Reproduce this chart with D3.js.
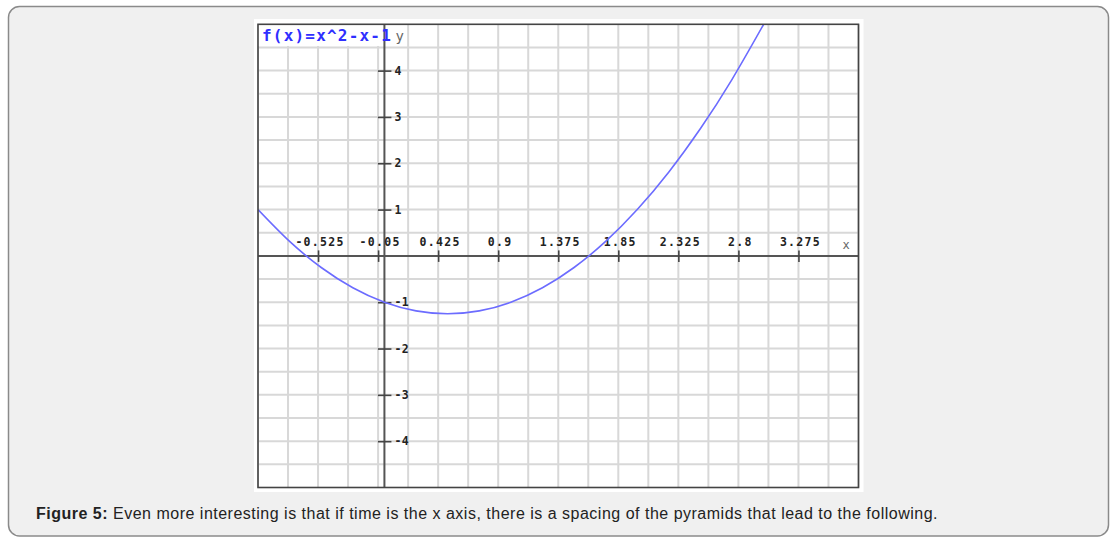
<!DOCTYPE html>
<html>
<head>
<meta charset="utf-8">
<script src="https://cdn.jsdelivr.net/npm/d3@7"></script>
<style>
  html, body { margin: 0; padding: 0; background: #ffffff; }
  svg { display: block; }
</style>
</head>
<body>
<svg id="chart" width="1115" height="546"></svg>
<script>
// ---- data ----
const titleText = "f(x)=x^2-x-1";
const captionBold = "Figure 5:";
const captionText = " Even more interesting is that if time is the x axis, there is a spacing of the pyramids that lead to the following.";
const xDomain = [-1, 3.75];
const yDomain = [-5, 5];
const xTicks = [-0.525, -0.05, 0.425, 0.9, 1.375, 1.85, 2.325, 2.8, 3.275];
const xTickLabels = ["-0.525", "-0.05", "0.425", "0.9", "1.375", "1.85", "2.325", "2.8", "3.275"];
const yTicks = [-4, -3, -2, -1, 1, 2, 3, 4];
const xGrid = [-1, -0.7625, -0.525, -0.2875, -0.05, 0.1875, 0.425, 0.6625, 0.9, 1.1375, 1.375, 1.6125, 1.85, 2.0875, 2.325, 2.5625, 2.8, 3.0375, 3.275, 3.5125, 3.75];
const yGrid = [-4.5, -4, -3.5, -3, -2.5, -2, -1.5, -1, -0.5, 0, 0.5, 1, 1.5, 2, 2.5, 3, 3.5, 4, 4.5];
const curveX = [-1, -0.75, -0.5, -0.25, 0, 0.25, 0.5, 0.75, 1, 1.25, 1.5, 1.75, 2, 2.25, 2.5, 2.75, 3];
const curveY = [1, 0.3125, -0.25, -0.6875, -1, -1.1875, -1.25, -1.1875, -1, -0.6875, -0.25, 0.3125, 1, 1.8125, 2.75, 3.8125, 5];

// ---- layout ----
const svg = d3.select("#chart");
const frame = { left: 258, right: 858.5, top: 24.3, bottom: 487.5 };

// outer panel
svg.append("rect")
  .attr("x", 8.5).attr("y", 6.5).attr("width", 1100).attr("height", 529.5)
  .attr("rx", 11).attr("ry", 11)
  .attr("fill", "#f0f0f0").attr("stroke", "#8a8a8a").attr("stroke-width", 1.5);

// white image box
svg.append("rect")
  .attr("x", 254).attr("y", 19).attr("width", 609.5).attr("height", 473)
  .attr("fill", "#ffffff");

const x = d3.scaleLinear().domain(xDomain).range([frame.left, frame.right]);
const y = d3.scaleLinear().domain(yDomain).range([frame.bottom, frame.top]);

const g = svg.append("g");

// grid
g.selectAll("line.vg").data(xGrid).join("line").attr("class", "vg")
  .attr("x1", d => x(d)).attr("x2", d => x(d))
  .attr("y1", frame.top).attr("y2", frame.bottom)
  .attr("stroke", "#d8d8d8").attr("stroke-width", 2);
g.selectAll("line.hg").data(yGrid).join("line").attr("class", "hg")
  .attr("x1", frame.left).attr("x2", frame.right)
  .attr("y1", d => y(d)).attr("y2", d => y(d))
  .attr("stroke", "#d8d8d8").attr("stroke-width", 2);

// white title background
g.append("rect")
  .attr("x", frame.left).attr("y", frame.top).attr("width", x(0) - 2 - frame.left)
  .attr("height", y(4.5) - 1.5 - frame.top).attr("fill", "#ffffff");

// axes lines
g.append("line")
  .attr("x1", frame.left).attr("x2", frame.right).attr("y1", y(0)).attr("y2", y(0))
  .attr("stroke", "#555").attr("stroke-width", 2);
g.append("line")
  .attr("x1", x(0)).attr("x2", x(0)).attr("y1", frame.top).attr("y2", frame.bottom)
  .attr("stroke", "#555").attr("stroke-width", 2);

// x axis ticks via d3 axis
const xAxis = d3.axisTop(x).tickValues(xTicks)
  .tickFormat((d, i) => xTickLabels[i]).tickSize(0).tickPadding(10);
const xg = g.append("g").attr("transform", `translate(0,${y(0)})`).call(xAxis);
xg.select(".domain").remove();
xg.selectAll(".tick").append("line")
  .attr("y1", -5.5).attr("y2", 6).attr("stroke", "#444").attr("stroke-width", 1.6);
xg.selectAll(".tick text")
  .attr("font-family", "'DejaVu Sans Mono', monospace").attr("font-weight", "bold")
  .attr("font-size", 11.5).attr("letter-spacing", 1.3).attr("fill", "#222").attr("dx", 1.5);

// y axis ticks
const yAxis = d3.axisRight(y).tickValues(yTicks).tickSize(0).tickPadding(10).tickFormat(d3.format("d"));
const yg = g.append("g").attr("transform", `translate(${x(0)},0)`).call(yAxis);
yg.select(".domain").remove();
yg.selectAll(".tick").append("line")
  .attr("x1", -6.5).attr("x2", 7).attr("stroke", "#444").attr("stroke-width", 1.6);
yg.selectAll(".tick text")
  .attr("font-family", "'DejaVu Sans Mono', monospace").attr("font-weight", "bold")
  .attr("font-size", 11.5).attr("letter-spacing", 0.5).attr("fill", "#222")
  .text(d => d < 0 ? "-" + Math.abs(d) : String(d));

// curve
const pts = curveX.map((v, i) => [v, curveY[i]]);
svg.append("defs").append("clipPath").attr("id", "clip")
  .append("rect").attr("x", frame.left).attr("y", frame.top)
  .attr("width", frame.right - frame.left).attr("height", frame.bottom - frame.top);
g.append("path")
  .datum(pts)
  .attr("clip-path", "url(#clip)")
  .attr("fill", "none").attr("stroke", "#6c6cff").attr("stroke-width", 1.6)
  .attr("d", d3.line().x(d => x(d[0])).y(d => y(d[1])).curve(d3.curveNatural));

// frame border
g.append("rect")
  .attr("x", frame.left).attr("y", frame.top)
  .attr("width", frame.right - frame.left).attr("height", frame.bottom - frame.top)
  .attr("fill", "none").attr("stroke", "#444").attr("stroke-width", 1.6);

// title
g.append("text")
  .attr("x", 262).attr("y", 41)
  .attr("font-family", "'DejaVu Sans Mono', monospace").attr("font-weight", "bold")
  .attr("font-size", 16).attr("letter-spacing", 1.2).attr("fill", "#2f2fff")
  .text(titleText);

// axis name labels
g.append("text").attr("x", x(0) + 11).attr("y", 41)
  .attr("font-family", "'DejaVu Sans Mono', monospace")
  .attr("font-size", 14).attr("fill", "#666").text("y");
g.append("text").attr("x", 846).attr("y", 249)
  .attr("text-anchor", "middle")
  .attr("font-family", "'DejaVu Sans Mono', monospace")
  .attr("font-size", 12).attr("fill", "#666").text("x");

// caption
const cap = svg.append("text").attr("x", 36).attr("y", 519)
  .attr("font-family", "'Liberation Sans', Arial, sans-serif")
  .attr("font-size", 16).attr("letter-spacing", 0.5).attr("fill", "#222");
cap.append("tspan").attr("font-weight", "bold").text(captionBold);
cap.append("tspan").text(captionText);
</script>
</body>
</html>
